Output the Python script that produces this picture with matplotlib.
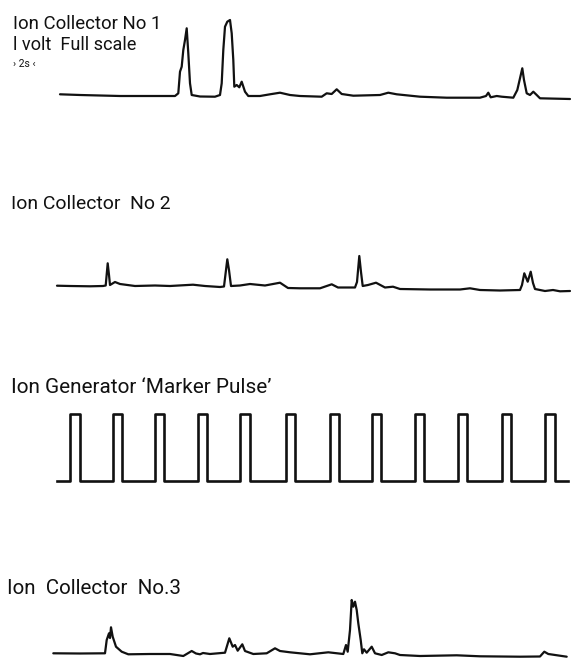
"""Ion collector traces and ion generator marker pulse, redrawn with Matplotlib."""

import matplotlib.pyplot as plt
import numpy as np

# Ion Collector No 1 (time along the sweep, deflection above band floor)
t1 = [60, 80, 100, 120, 140, 160, 175, 178.3, 180, 181.7, 183.3, 185, 186.7,
      188.3, 190, 191.7, 200, 215, 220, 221.7, 223.3, 225, 227.3, 230, 231.7,
      233.3, 234.3, 236.7, 239.3, 241.7, 245, 248.3, 260, 270, 280, 290, 300,
      321.7, 326.7, 331.7, 336.7, 341.7, 353.3, 380, 388.3, 396.7, 420, 446.7,
      480, 486, 488.3, 490.7, 496.7, 501.7, 513.3, 517.3, 520, 522.3, 524,
      526.7, 530, 533.3, 536.7, 540, 570]
v1 = [15.7, 15, 14.5, 14, 14, 14, 14, 16.7, 38.3, 43.3, 60, 70, 81.7,
      56.7, 26.7, 15, 13.5, 13.3, 15, 26.7, 60, 83.3, 88.3, 90, 76.7,
      50, 23.3, 25, 22.7, 28.3, 18.3, 14, 14, 15.7, 17.3, 15, 14,
      13.3, 16.7, 16, 20.7, 16, 14.3, 15, 17.3, 15.7, 13.3, 12.3,
      12.3, 14, 17.3, 12.7, 14, 13.3, 12.3, 20, 31.7, 41.7, 30,
      16.7, 15, 18.3, 15, 11.7, 11]

# Ion Collector No 2
t2 = [57, 70, 90, 103, 105.7, 107.7, 109, 110, 115, 120, 135, 155, 170, 193,
      205, 220, 224, 227.3, 229, 231, 240, 250, 265, 280, 288, 300, 320,
      331.7, 338, 355, 357, 359.3, 361, 362.7, 368, 376, 385, 393, 400, 430,
      460, 470, 480, 500, 520, 522, 524.3, 527.7, 530.7, 533, 535, 545, 553,
      560, 570]
v2 = [14.3, 14, 13.7, 14, 14.5, 36.7, 25, 15, 18, 16, 14, 14.5, 14, 15.3,
      14, 13, 13.5, 40.7, 30, 14, 14.5, 16, 14.5, 17.3, 12, 11.7, 11.7,
      15.7, 12.5, 12.5, 18, 44, 28, 14, 15, 17.3, 12.5, 13.3, 11, 10.5,
      10.5, 11.7, 10, 9.5, 10, 15, 26.7, 18.3, 28.3, 17, 11, 9, 10,
      8.7, 9]

# Ion Generator marker pulse
pulse_rise = [70, 112.7, 155, 197.7, 240, 286, 330, 371.7, 415, 457.7, 501.7, 545]
pulse_fall = [80, 121.7, 164, 206.7, 250, 295, 339.3, 381, 424, 466.7, 510.7, 555]
pulse_start, pulse_end = 56.7, 568.3
pulse_high, pulse_low = 81, 14

# Ion Collector No.3
t3 = [53.3, 80, 105, 106.7, 109, 110, 111, 112.7, 116, 121.7, 128.3, 150,
      170, 183.3, 191.7, 196, 200, 203, 210, 225, 229.3, 232.7, 235, 237.7,
      242.3, 245, 253.3, 266.7, 275, 280, 290, 310, 328.3, 343.3, 346, 347.7,
      350, 351.7, 353.3, 355, 356.7, 358.3, 360.7, 362.3, 364, 366.7, 371.7,
      375, 381.7, 388.3, 395, 400, 420, 456.7, 480, 520, 540, 544.3, 548.3,
      566.7]
v3 = [4.7, 4.5, 4.7, 18, 24.7, 20, 30.7, 21.3, 11.3, 6.3, 3.7, 4,
      4, 2, 7, 4.5, 3.7, 5, 4, 5.3, 19.7, 11.3, 13, 7.3,
      13.7, 7, 4, 4.7, 9.7, 7, 5.7, 3.7, 5.7, 4, 13, 6.3,
      28, 58, 51.3, 56.3, 48, 34.7, 18, 4.7, 8.7, 5.3, 11.3,
      4.7, 3, 5.7, 4.7, 3, 2, 2.7, 1.7, 1.3, 1.5, 6.3, 4,
      1.3]

labels = ["Ion Collector No 1", "l volt  Full scale", "› 2s ‹",
          "Ion Collector  No 2", "Ion Generator ‘Marker Pulse’",
          "Ion  Collector  No.3"]

W, H = 571, 658
INK = "#111111"
FONT = ["Roboto", "DejaVu Sans"]


def band_axes(fig, top, bottom):
    """Axes spanning the full width between two pixel rows of the figure."""
    ax = fig.add_axes([0, 1 - bottom / H, 1, (bottom - top) / H])
    ax.set_xlim(0, W)
    ax.set_ylim(0, bottom - top)
    ax.axis("off")
    return ax


fig = plt.figure(figsize=(W / 100, H / 100), dpi=100)
fig.patch.set_facecolor("white")

line_kw = dict(color=INK, lw=1.6, solid_joinstyle="round", solid_capstyle="round")

ax1 = band_axes(fig, 0, 110)
ax1.plot(t1, v1, **line_kw)

ax2 = band_axes(fig, 240, 300)
ax2.plot(t2, v2, **line_kw)

px = [pulse_start]
py = [pulse_low]
for r, f in zip(pulse_rise, pulse_fall):
    px += [r, r, f, f]
    py += [pulse_low, pulse_high, pulse_high, pulse_low]
px.append(pulse_end)
py.append(pulse_low)
ax3 = band_axes(fig, 400, 495)
ax3.plot(np.array(px), np.array(py), color=INK, lw=1.9, solid_joinstyle="round")

ax4 = band_axes(fig, 580, 658)
ax4.plot(t3, v3, **line_kw)

# labels, placed in pixel coordinates of the page
lab = fig.add_axes([0, 0, 1, 1])
lab.set_xlim(0, W)
lab.set_ylim(H, 0)
lab.axis("off")
lab.patch.set_alpha(0)

# (x, baseline, width) of each label on the page; None keeps the size
spots = [(13, 29, 149), (13, 50, 124), (13, 67, None),
         (11, 209, 160), (11, 393, 262), (7, 594, 175)]
texts = [lab.text(x, y, s, family=FONT, fontsize=14 if w else 7.5, color=INK)
         for s, (x, y, w) in zip(labels, spots)]

renderer = fig.canvas.get_renderer()
for txt, (_, _, w) in zip(texts, spots):
    if w:
        bb = txt.get_window_extent(renderer)
        txt.set_fontsize(txt.get_fontsize() * w / bb.width)

fig.savefig("out.png", dpi=100, facecolor="white")
